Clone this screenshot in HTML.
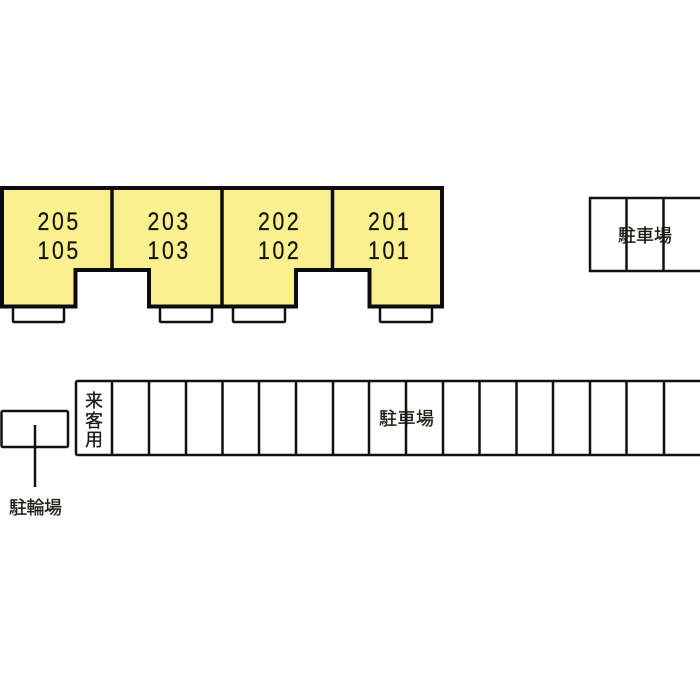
<!DOCTYPE html>
<html lang="ja">
<head>
<meta charset="utf-8">
<style>
html,body{margin:0;padding:0;background:#fff;width:700px;height:700px;overflow:hidden}
svg{display:block}
text{fill:#1a1a10}
.n{font-family:"Liberation Sans",sans-serif;font-size:25px;fill:#14140c;stroke:#14140c;stroke-width:.25px}
.j{font-family:"Liberation Sans","Noto Sans CJK JP",sans-serif;font-size:18px;stroke:#1a1a10;stroke-width:.3px}
</style>
</head>
<body>
<svg width="700" height="700" viewBox="0 0 700 700" xmlns="http://www.w3.org/2000/svg">
<g fill="#fff" stroke="#111" stroke-width="2.500">
<rect x="13" y="306" width="51" height="16" rx="1"/>
<rect x="160" y="306" width="52" height="16" rx="1"/>
<rect x="233" y="306" width="52" height="16" rx="1"/>
<rect x="380" y="306" width="52" height="16" rx="1"/>
</g>
<path d="M2,188 H442 V306.500 H369.500 V270 H296 V306.500 H149 V270 H75.500 V306.500 H2 Z" fill="#fbf08f" stroke="#0c0c0c" stroke-width="4"/>
<path d="M112,188 V270 M222,188 V306 M332.500,188 V270" fill="none" stroke="#0c0c0c" stroke-width="3.500"/>

<text class="n" transform="translate(37.500,230) scale(.85,1)" x="0 17 34">205</text>
<text class="n" transform="translate(37.500,259) scale(.85,1)" x="0 17 34">105</text>
<text class="n" transform="translate(147.500,230) scale(.85,1)" x="0 17 34">203</text>
<text class="n" transform="translate(147.500,259) scale(.85,1)" x="0 17 34">103</text>
<text class="n" transform="translate(258,230) scale(.85,1)" x="0 17 34">202</text>
<text class="n" transform="translate(258,259) scale(.85,1)" x="0 17 34">102</text>
<text class="n" transform="translate(368,230) scale(.85,1)" x="0 17 34">201</text>
<text class="n" transform="translate(368,259) scale(.85,1)" x="0 17 34">101</text>

<g fill="none" stroke="#111" stroke-width="2.500">
<rect x="590" y="198" width="120" height="73"/>
<path d="M626.500,198 V271 M663.500,198 V271"/>
<rect x="76" y="381" width="640" height="74" rx="1.500"/>
<path d="M112,381 V455 M149,381 V455 M186,381 V455 M222.500,381 V455 M259,381 V455 M296,381 V455 M333,381 V455 M369,381 V455 M406,381 V455 M443,381 V455 M479.500,381 V455 M516.500,381 V455 M553,381 V455 M590,381 V455 M626.500,381 V455 M664,381 V455"/>
<rect x="1.500" y="411" width="66.500" height="36" rx="1.500"/>
<path d="M35,425 V487"/>
</g>

<text class="j" x="618" y="242" textLength="54">駐車場</text>
<text class="j" x="379" y="425" textLength="55">駐車場</text>
<text class="j" x="9" y="514" textLength="53">駐輪場</text>
<text class="j" x="85" y="407">来</text>
<text class="j" x="85" y="427">客</text>
<text class="j" x="85" y="446">用</text>
</svg>
</body>
</html>
